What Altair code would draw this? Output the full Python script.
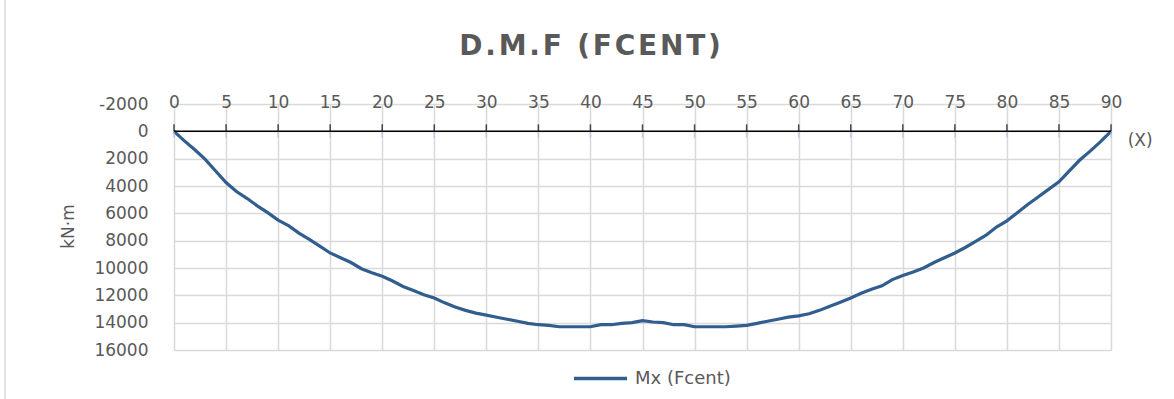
import altair as alt
import pandas as pd

# Data
x_pos = list(range(0, 91))
mx_fcent = [
    0, 700, 1350, 2050, 2900, 3750, 4400, 4900, 5450, 5950,
    6500, 6900, 7450, 7900, 8400, 8900, 9250, 9600, 10050, 10350,
    10600, 10950, 11350, 11650, 11950, 12200, 12550, 12850, 13100, 13300,
    13450, 13600, 13750, 13900, 14050, 14150, 14200, 14300, 14300, 14300,
    14300, 14150, 14150, 14050, 14000, 13850, 13950, 14000, 14150, 14150,
    14300, 14300, 14300, 14300, 14250, 14200, 14050, 13900, 13750, 13600,
    13500, 13350, 13100, 12800, 12500, 12200, 11850, 11550, 11300, 10850,
    10550, 10300, 10000, 9600, 9250, 8900, 8500, 8050, 7600, 7000,
    6550, 5950, 5350, 4800, 4250, 3700, 2900, 2100, 1450, 750,
    0,
]
series_name = "Mx (Fcent)"
x_ticks = list(range(0, 91, 5))
y_ticks = list(range(-2000, 16001, 2000))
title_text = "D\u200a.\u200aM\u200a.\u200aF\u200a \u200a(\u200aF\u200aC\u200aE\u200aN\u200aT\u200a)"
y_title = "kN·m"
x_note = "(X)"

LINE_COLOR = "#325D8F"
TEXT_COLOR = "#595959"
GRID_COLOR = "#D9D9D9"
FONT = "DejaVu Sans"

df = pd.DataFrame({"x": x_pos, "mx": mx_fcent, "series": series_name})
ticks_df = pd.DataFrame({"x": x_ticks, "mx": [0] * len(x_ticks)})
zero_df = pd.DataFrame({"mx": [0]})
note_df = pd.DataFrame({"x": [92.8], "mx": [730], "t": [x_note]})
title_df = pd.DataFrame({"t": [title_text]})

x_scale = alt.Scale(domain=[0, 90], nice=False, zero=False)
y_scale = alt.Scale(domain=[-2000, 16000], reverse=True, nice=False, zero=False)

x_axis = alt.Axis(orient="top", values=x_ticks, grid=True, domain=False,
                  ticks=False, tickSize=0, labelPadding=2,
                  labelBaseline="middle", labelFontSize=17,
                  labelFlush=False, labelOverlap=False,
                  labelColor=TEXT_COLOR, labelFont=FONT,
                  gridColor=GRID_COLOR, gridWidth=1.5)
y_axis = alt.Axis(orient="left", values=y_ticks, grid=True, domain=False,
                  ticks=False, tickSize=0, labelPadding=26,
                  labelExpr="'' + datum.value",
                  labelFlush=False, labelOverlap=False,
                  labelFontSize=17, labelColor=TEXT_COLOR, labelFont=FONT,
                  gridColor=GRID_COLOR, gridWidth=1.5,
                  titleFontSize=17, titleFontWeight="normal",
                  titleColor=TEXT_COLOR, titleFont=FONT,
                  titleX=-106, titleY=122, titleAlign="center",
                  titleBaseline="middle", titleAngle=-90)


def X():
    return alt.X("x:Q", scale=x_scale, axis=x_axis, title=None)


def Y():
    return alt.Y("mx:Q", scale=y_scale, axis=y_axis, title=y_title)


line = alt.Chart(df).mark_line(strokeWidth=3.2).encode(
    x=X(), y=Y(),
    color=alt.Color("series:N", scale=alt.Scale(range=[LINE_COLOR]),
                    legend=alt.Legend(orient="none", legendX=398, legendY=246,
                                      title=None, symbolType="stroke",
                                      symbolSize=2809, symbolStrokeWidth=3.5,
                                      symbolStrokeColor=LINE_COLOR,
                                      labelFontSize=18, labelColor=TEXT_COLOR,
                                      labelFont=FONT, labelOffset=6, padding=0)),
)

zero_rule = alt.Chart(zero_df).mark_rule(color="black", strokeWidth=1.5).encode(y=Y())

tick_marks = alt.Chart(ticks_df).mark_tick(
    orient="vertical", color="black", size=7, thickness=1.5, yOffset=-3.5
).encode(x=X(), y=Y())

tick_marks_low = alt.Chart(ticks_df).mark_tick(
    orient="vertical", color="#A9C1DD", size=6, thickness=1.5, yOffset=3.5
).encode(x=X(), y=Y())

note = alt.Chart(note_df).mark_text(
    fontSize=17, color=TEXT_COLOR, font=FONT, align="center", baseline="middle"
).encode(x=X(), y=Y(), text="t:N")

title = alt.Chart(title_df).mark_text(
    fontSize=28, font=FONT, fontWeight="bold", color=TEXT_COLOR,
    align="center", baseline="middle"
).encode(x=alt.value(416), y=alt.value(-57), text="t:N")

frame = alt.Chart(zero_df).mark_rule(color="#D9D9D9", strokeWidth=1.5).encode(
    x=alt.value(-169), y=alt.value(-104), y2=alt.value(295)
)

chart = alt.layer(line, frame, zero_rule, tick_marks_low, tick_marks, note, title).properties(
    width=937,
    height=246,
    padding={"left": 174, "top": 104, "right": 63, "bottom": 49},
    autosize=alt.AutoSizeParams(type="none"),
).configure_view(strokeWidth=0).configure(background="white")

chart.save("out.html", embed_options={"renderer": "svg", "actions": False})
